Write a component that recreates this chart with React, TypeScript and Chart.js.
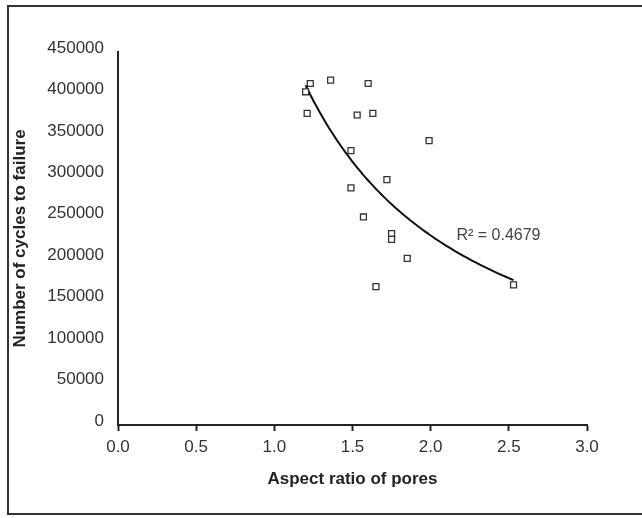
import React, { useEffect, useRef } from "react";
import { Chart, registerables } from "chart.js";

Chart.register(...registerables);

// Aspect ratio of pores (x) and number of cycles to failure (y)
const aspectRatio = [1.2, 1.23, 1.36, 1.6, 1.21, 1.53, 1.63, 1.99, 1.49, 1.72, 1.49, 1.57, 1.75, 1.75, 1.85, 1.65, 2.53];
const cycles = [402000, 412000, 416000, 412000, 376000, 374000, 376000, 343000, 331000, 296000, 286000, 251000, 231000, 224000, 201000, 167000, 169000];

const xTickValues = [0, 0.5, 1, 1.5, 2, 2.5, 3];
const yTickValues = [0, 50000, 100000, 150000, 200000, 250000, 300000, 350000, 400000, 450000];

const xTitle = "Aspect ratio of pores";
const yTitle = "Number of cycles to failure";
const r2Label = "R\u00B2 = 0.4679";
const r2Anchor = { x: 2.165, y: 228000 };

const FONT = "'Liberation Sans', Arial, Helvetica, sans-serif";

// Power trendline (y = a * x^b), fitted by least squares in log-log space
function powerFit(xs: number[], ys: number[]) {
  const lx = xs.map(Math.log);
  const ly = ys.map(Math.log);
  const n = xs.length;
  const mx = lx.reduce((s, v) => s + v, 0) / n;
  const my = ly.reduce((s, v) => s + v, 0) / n;
  let sxy = 0;
  let sxx = 0;
  for (let i = 0; i < n; i++) {
    sxy += (lx[i] - mx) * (ly[i] - my);
    sxx += (lx[i] - mx) * (lx[i] - mx);
  }
  const b = sxy / sxx;
  const a = Math.exp(my - b * mx);
  return { a, b };
}

export default function App() {
  const canvasRef = useRef<HTMLCanvasElement | null>(null);

  useEffect(() => {
    const canvas = canvasRef.current;
    if (!canvas) return;

    const { a, b } = powerFit(aspectRatio, cycles);
    const xmin = Math.min(...aspectRatio);
    const xmax = Math.max(...aspectRatio);
    const trend: { x: number; y: number }[] = [];
    const steps = 80;
    for (let i = 0; i <= steps; i++) {
      const x = xmin + ((xmax - xmin) * i) / steps;
      trend.push({ x, y: a * Math.pow(x, b) });
    }

    const points = aspectRatio.map((x, i) => ({ x, y: cycles[i] }));

    const r2Plugin = {
      id: "r2label",
      afterDatasetsDraw(chart: any) {
        const ctx = chart.ctx;
        const px = chart.scales.x.getPixelForValue(r2Anchor.x);
        const py = chart.scales.y.getPixelForValue(r2Anchor.y);
        ctx.save();
        ctx.font = `16px ${FONT}`;
        ctx.fillStyle = "#444";
        ctx.textAlign = "left";
        ctx.textBaseline = "middle";
        ctx.fillText(r2Label, px, py);
        ctx.restore();
      },
    };

    const chart = new Chart(canvas, {
      type: "scatter",
      data: {
        datasets: [
          {
            type: "line",
            label: "trend",
            data: trend,
            borderColor: "#111",
            borderWidth: 2,
            pointRadius: 0,
            fill: false,
            tension: 0,
            order: 1,
          } as any,
          {
            label: "data",
            data: points,
            pointStyle: "rect",
            pointRadius: 4.2,
            borderWidth: 1.3,
            borderColor: "#333",
            backgroundColor: "#fff",
            order: 0,
          },
        ],
      },
      options: {
        animation: false,
        responsive: false,
        maintainAspectRatio: false,
        layout: { padding: { left: 0, top: 52, right: 55, bottom: 0 } },
        plugins: {
          legend: { display: false },
          tooltip: { enabled: false },
        },
        scales: {
          x: {
            type: "linear",
            min: 0,
            max: 3,
            afterBuildTicks: (scale: any) => {
              scale.ticks = xTickValues.map((v) => ({ value: v }));
            },
            afterFit: (scale: any) => {
              scale.height = 93;
            },
            grid: {
              display: true,
              drawOnChartArea: false,
              drawTicks: true,
              tickLength: 6,
              tickWidth: 2,
              tickColor: "#222",
            },
            border: { display: true, color: "#222", width: 2 },
            ticks: {
              padding: 6,
              color: "#333",
              font: { family: FONT, size: 17 },
              maxRotation: 0,
              callback: (v: any) => Number(v).toFixed(1),
            },
            title: {
              display: true,
              text: xTitle,
              color: "#222",
              font: { family: FONT, size: 17, weight: "bold" },
              padding: { top: 0, bottom: 28 },
            },
          },
          y: {
            type: "linear",
            min: 0,
            max: 450000,
            afterBuildTicks: (scale: any) => {
              scale.ticks = yTickValues.map((v) => ({ value: v }));
            },
            afterFit: (scale: any) => {
              scale.width = 118;
            },
            grid: { display: false, drawTicks: false },
            border: { display: true, color: "#222", width: 2 },
            ticks: {
              padding: 14,
              labelOffset: -4,
              color: "#333",
              font: { family: FONT, size: 17 },
              callback: (v: any) => String(v),
            },
            title: {
              display: true,
              text: yTitle,
              color: "#222",
              font: { family: FONT, size: 17, weight: "bold" },
              padding: { top: 10, bottom: 0 },
            },
          },
        },
      },
      plugins: [r2Plugin],
    });

    return () => {
      chart.destroy();
    };
  }, []);

  return (
    <div style={{ position: "fixed", left: 0, top: 0, width: 642, height: 518, background: "#fff", overflow: "hidden" }}>
      <canvas ref={canvasRef} width={642} height={518} style={{ display: "block", width: 642, height: 518 }} />
      <div
        style={{
          position: "absolute",
          left: 7,
          top: 5,
          width: 660,
          height: 510,
          border: "2px solid #333",
          boxSizing: "border-box",
          pointerEvents: "none",
        }}
      />
    </div>
  );
}
